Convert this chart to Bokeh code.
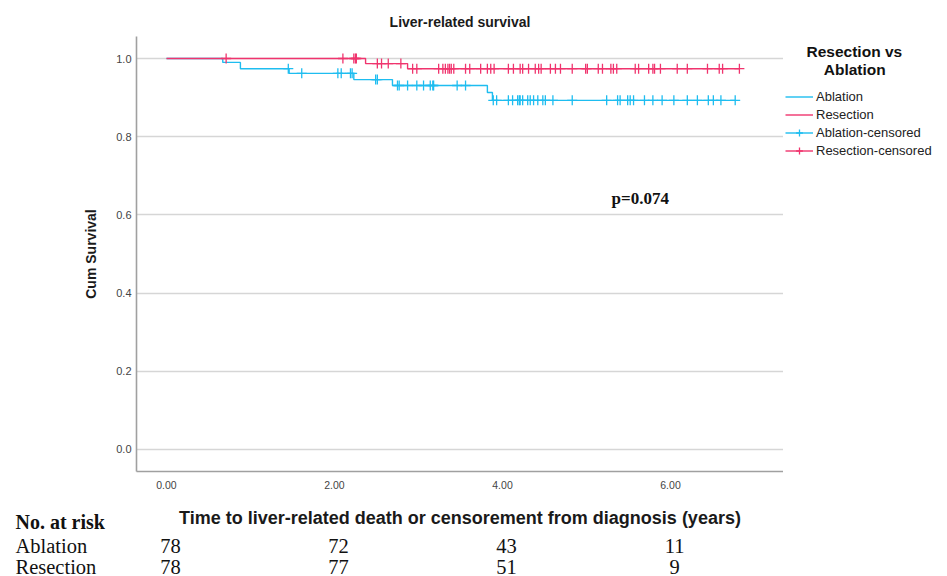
import numpy as np
from bokeh.plotting import figure
from bokeh.layouts import column, row
from bokeh.models import (ColumnDataSource, Range1d, FixedTicker, Label, LabelSet,
                          Legend, LegendItem)
from bokeh.embed import file_html
from bokeh.resources import INLINE

# ---------------- data ----------------
abl_event_times = [0.0, 0.67, 0.88, 1.46, 2.23, 2.69, 3.82, 3.88, 6.77]
abl_survival    = [1.0, 0.990, 0.974, 0.962, 0.946, 0.931, 0.913, 0.893, 0.893]
res_event_times = [0.0, 2.37, 2.87, 6.82]
res_survival    = [1.0, 0.987, 0.974, 0.974]

abl_censored = [1.45, 1.61, 2.04, 2.08, 2.19, 2.21, 2.49, 2.51, 2.75, 2.77, 2.87, 2.98,
                3.06, 3.14, 3.17, 3.18, 3.46, 3.56, 3.89, 3.93, 4.07, 4.12, 4.18, 4.20,
                4.21, 4.24, 4.30, 4.33, 4.37, 4.42, 4.48, 4.51, 4.60, 4.83, 5.24, 5.37,
                5.40, 5.49, 5.52, 5.56, 5.69, 5.79, 5.90, 6.04, 6.20, 6.32, 6.45, 6.51,
                6.60, 6.77]
res_censored = [0.71, 2.10, 2.23, 2.25, 2.26, 2.51, 2.56, 2.64, 2.79, 2.93, 2.98, 3.24,
                3.29, 3.32, 3.35, 3.37, 3.39, 3.42, 3.56, 3.61, 3.74, 3.82, 3.86, 3.90,
                4.07, 4.13, 4.21, 4.24, 4.31, 4.39, 4.43, 4.46, 4.57, 4.63, 4.69, 4.83,
                4.99, 5.01, 5.14, 5.19, 5.29, 5.32, 5.36, 5.58, 5.62, 5.74, 5.79, 5.81,
                5.88, 6.08, 6.20, 6.44, 6.58, 6.62, 6.82]

risk_times = [0, 2, 4, 6]
risk_ablation = [78, 72, 43, 11]
risk_resection = [78, 77, 51, 9]
y_ticks = [0.0, 0.2, 0.4, 0.6, 0.8, 1.0]
x_ticks = [0, 2, 4, 6]
x_tick_labels = ["0.00", "2.00", "4.00", "6.00"]
p_text = "p=0.074"
x_label = "Time to liver-related death or censorement from diagnosis (years)"
legend_title = "Resection vs\nAblation"
legend_labels = ["Ablation", "Resection", "Ablation-censored", "Resection-censored"]

ABL = "#1ebdf0"
RES = "#f0346e"

W = 947
LEFT, RIGHT = 136, 164
MAIN_H, TABLE_H = 500, 76
X0, X1 = -0.357, 7.345
NB = "\u00a0"


def surv_at(times, ev_t, ev_s):
    ev_t = np.asarray(ev_t)
    ev_s = np.asarray(ev_s)
    idx = np.searchsorted(ev_t, np.asarray(times), side="right") - 1
    return ev_s[np.clip(idx, 0, len(ev_s) - 1)]


abl_src = ColumnDataSource(dict(t=abl_event_times, s=abl_survival))
res_src = ColumnDataSource(dict(t=res_event_times, s=res_survival))
abl_c = ColumnDataSource(dict(t=abl_censored,
                              s=surv_at(abl_censored, abl_event_times, abl_survival)))
res_c = ColumnDataSource(dict(t=res_censored,
                              s=surv_at(res_censored, res_event_times, res_survival)))

# ---------------- main plot ----------------
p = figure(width=W - RIGHT, height=MAIN_H, output_backend="svg", toolbar_location=None,
           x_range=Range1d(X0, X1), y_range=Range1d(-0.0563, 1.0563),
           min_border_left=LEFT, min_border_right=0, min_border_top=36,
           min_border_bottom=29, background_fill_color="white",
           border_fill_color="white", outline_line_color=None, frame_align=False)

p.title.text = "Liver-related survival"
p.title.align = "center"
p.title.text_font = "Liberation Sans"
p.title.text_font_size = "14px"
p.title.text_font_style = "bold"
p.title.text_color = "#1a1a1a"
p.title.standoff = 13

p.xaxis.ticker = FixedTicker(ticks=x_ticks)
p.xaxis.major_label_overrides = {t: l for t, l in zip(x_ticks, x_tick_labels)}
p.xaxis.major_label_text_font = "Liberation Sans"
p.xaxis.major_label_text_font_size = "10.5px"
p.xaxis.major_label_text_color = "#444444"
p.xaxis.major_label_standoff = 9

p.yaxis.ticker = FixedTicker(ticks=y_ticks)
p.yaxis.major_label_overrides = {t: f"{t:.1f}" for t in y_ticks}
p.yaxis.axis_label = "Cum Survival"
p.yaxis.axis_label_text_font = "Liberation Sans"
p.yaxis.axis_label_text_font_style = "bold"
p.yaxis.axis_label_text_font_size = "14px"
p.yaxis.axis_label_text_color = "#1a1a1a"
p.yaxis.axis_label_standoff = 14
p.yaxis.major_label_text_font = "Liberation Sans"
p.yaxis.major_label_text_font_size = "11px"
p.yaxis.major_label_text_color = "#444444"
p.yaxis.major_label_standoff = 5

for ax in (p.xaxis, p.yaxis):
    ax.axis_line_color = "#a0a0a0"
    ax.axis_line_width = 1.6
    ax.major_tick_out = 0
    ax.major_tick_in = 0
    ax.minor_tick_out = 0
    ax.minor_tick_in = 0

p.xgrid.grid_line_color = None
p.ygrid.grid_line_color = "#d6d6d6"
p.ygrid.grid_line_width = 1.3
p.ygrid.ticker = FixedTicker(ticks=y_ticks)

p.step("t", "s", source=abl_src, mode="after", line_color=ABL, line_width=1.4)
p.step("t", "s", source=res_src, mode="after", line_color=RES, line_width=1.4)
p.scatter("t", "s", source=abl_c, marker="cross", size=10, line_color=ABL, line_width=1.3)
p.scatter("t", "s", source=res_c, marker="cross", size=10, line_color=RES, line_width=1.3)

p.add_layout(Label(x=5.64, y=0.642, text=p_text, text_align="center",
                   text_baseline="middle", text_font="Liberation Serif",
                   text_font_style="bold", text_font_size="17px", text_color="#111111"))

# ---------------- legend panel (right) ----------------
lf = figure(width=RIGHT, height=MAIN_H, output_backend="svg", toolbar_location=None,
            x_range=Range1d(100, 101), y_range=Range1d(100, 101), min_border=0,
            x_axis_location=None, y_axis_location=None, outline_line_color=None,
            background_fill_color="white", border_fill_color="white", frame_align=False)
lf.grid.visible = False
la = lf.step("t", "s", source=abl_src, mode="after", line_color=ABL, line_width=1.4)
lr = lf.step("t", "s", source=res_src, mode="after", line_color=RES, line_width=1.4)
lac = lf.scatter("t", "s", source=abl_c, marker="cross", size=10, line_color=ABL,
                 line_width=1.3)
lrc = lf.scatter("t", "s", source=res_c, marker="cross", size=10, line_color=RES,
                 line_width=1.3)

t1, t2 = legend_title.split("\n")
legend = Legend(items=[
    LegendItem(label=legend_labels[0], renderers=[la]),
    LegendItem(label=legend_labels[1], renderers=[lr]),
    LegendItem(label=legend_labels[2], renderers=[la, lac]),
    LegendItem(label=legend_labels[3], renderers=[lr, lrc]),
], location=(2, MAIN_H - 159), padding=0, margin=0, spacing=1, glyph_width=28,
    glyph_height=17, label_height=17, label_standoff=3,
    label_text_font="Liberation Sans", label_text_font_size="13px",
    label_text_color="#222222", border_line_color=None, background_fill_alpha=0,
    title=NB * 5 + t1 + "\n" + NB * 9 + t2,
    title_text_font="Liberation Sans",
    title_text_font_style="bold", title_text_font_size="15.5px",
    title_text_color="#111111", title_standoff=9)
lf.add_layout(legend)

# ---------------- number at risk table (below) ----------------
ppu = (W - LEFT - RIGHT) / (X1 - X0)
t = figure(width=W, height=TABLE_H, output_backend="svg", toolbar_location=None,
           x_range=Range1d(X0 - LEFT / ppu, X1 + RIGHT / ppu), y_range=Range1d(0, TABLE_H),
           min_border=0, x_axis_location=None, y_axis_location=None,
           outline_line_color=None, background_fill_color="white",
           border_fill_color="white", frame_align=False)
t.grid.visible = False

t.add_layout(Label(x=LEFT + (W - LEFT - RIGHT) / 2, y=59, x_units="screen",
                   y_units="screen", text=x_label, text_align="center",
                   text_baseline="middle", text_font="Liberation Sans",
                   text_font_style="bold", text_font_size="18px", text_color="#1a1a1a"))
t.add_layout(Label(x=15, y=55, x_units="screen", y_units="screen", text="No. at risk",
                   text_align="left", text_baseline="middle", text_font="Liberation Serif",
                   text_font_style="bold", text_font_size="20px", text_color="#111111"))
for name, yy in (("Ablation", 31), ("Resection", 10)):
    t.add_layout(Label(x=15, y=yy, x_units="screen", y_units="screen", text=name,
                       text_align="left", text_baseline="middle",
                       text_font="Liberation Serif", text_font_size="20.5px",
                       text_color="#111111"))

risk_src = ColumnDataSource(dict(t=risk_times,
                                 a=[str(v) for v in risk_ablation],
                                 r=[str(v) for v in risk_resection]))
t.add_layout(LabelSet(x="t", y=31, y_units="screen", text="a", source=risk_src,
                      text_align="center", text_baseline="middle", x_offset=4,
                      text_font="Liberation Serif", text_font_size="20.5px",
                      text_color="#111111"))
t.add_layout(LabelSet(x="t", y=10, y_units="screen", text="r", source=risk_src,
                      text_align="center", text_baseline="middle", x_offset=4,
                      text_font="Liberation Serif", text_font_size="20.5px",
                      text_color="#111111"))

layout = column(row(p, lf, spacing=0), t, spacing=0)
open("out.html", "w").write(file_html(layout, INLINE))
